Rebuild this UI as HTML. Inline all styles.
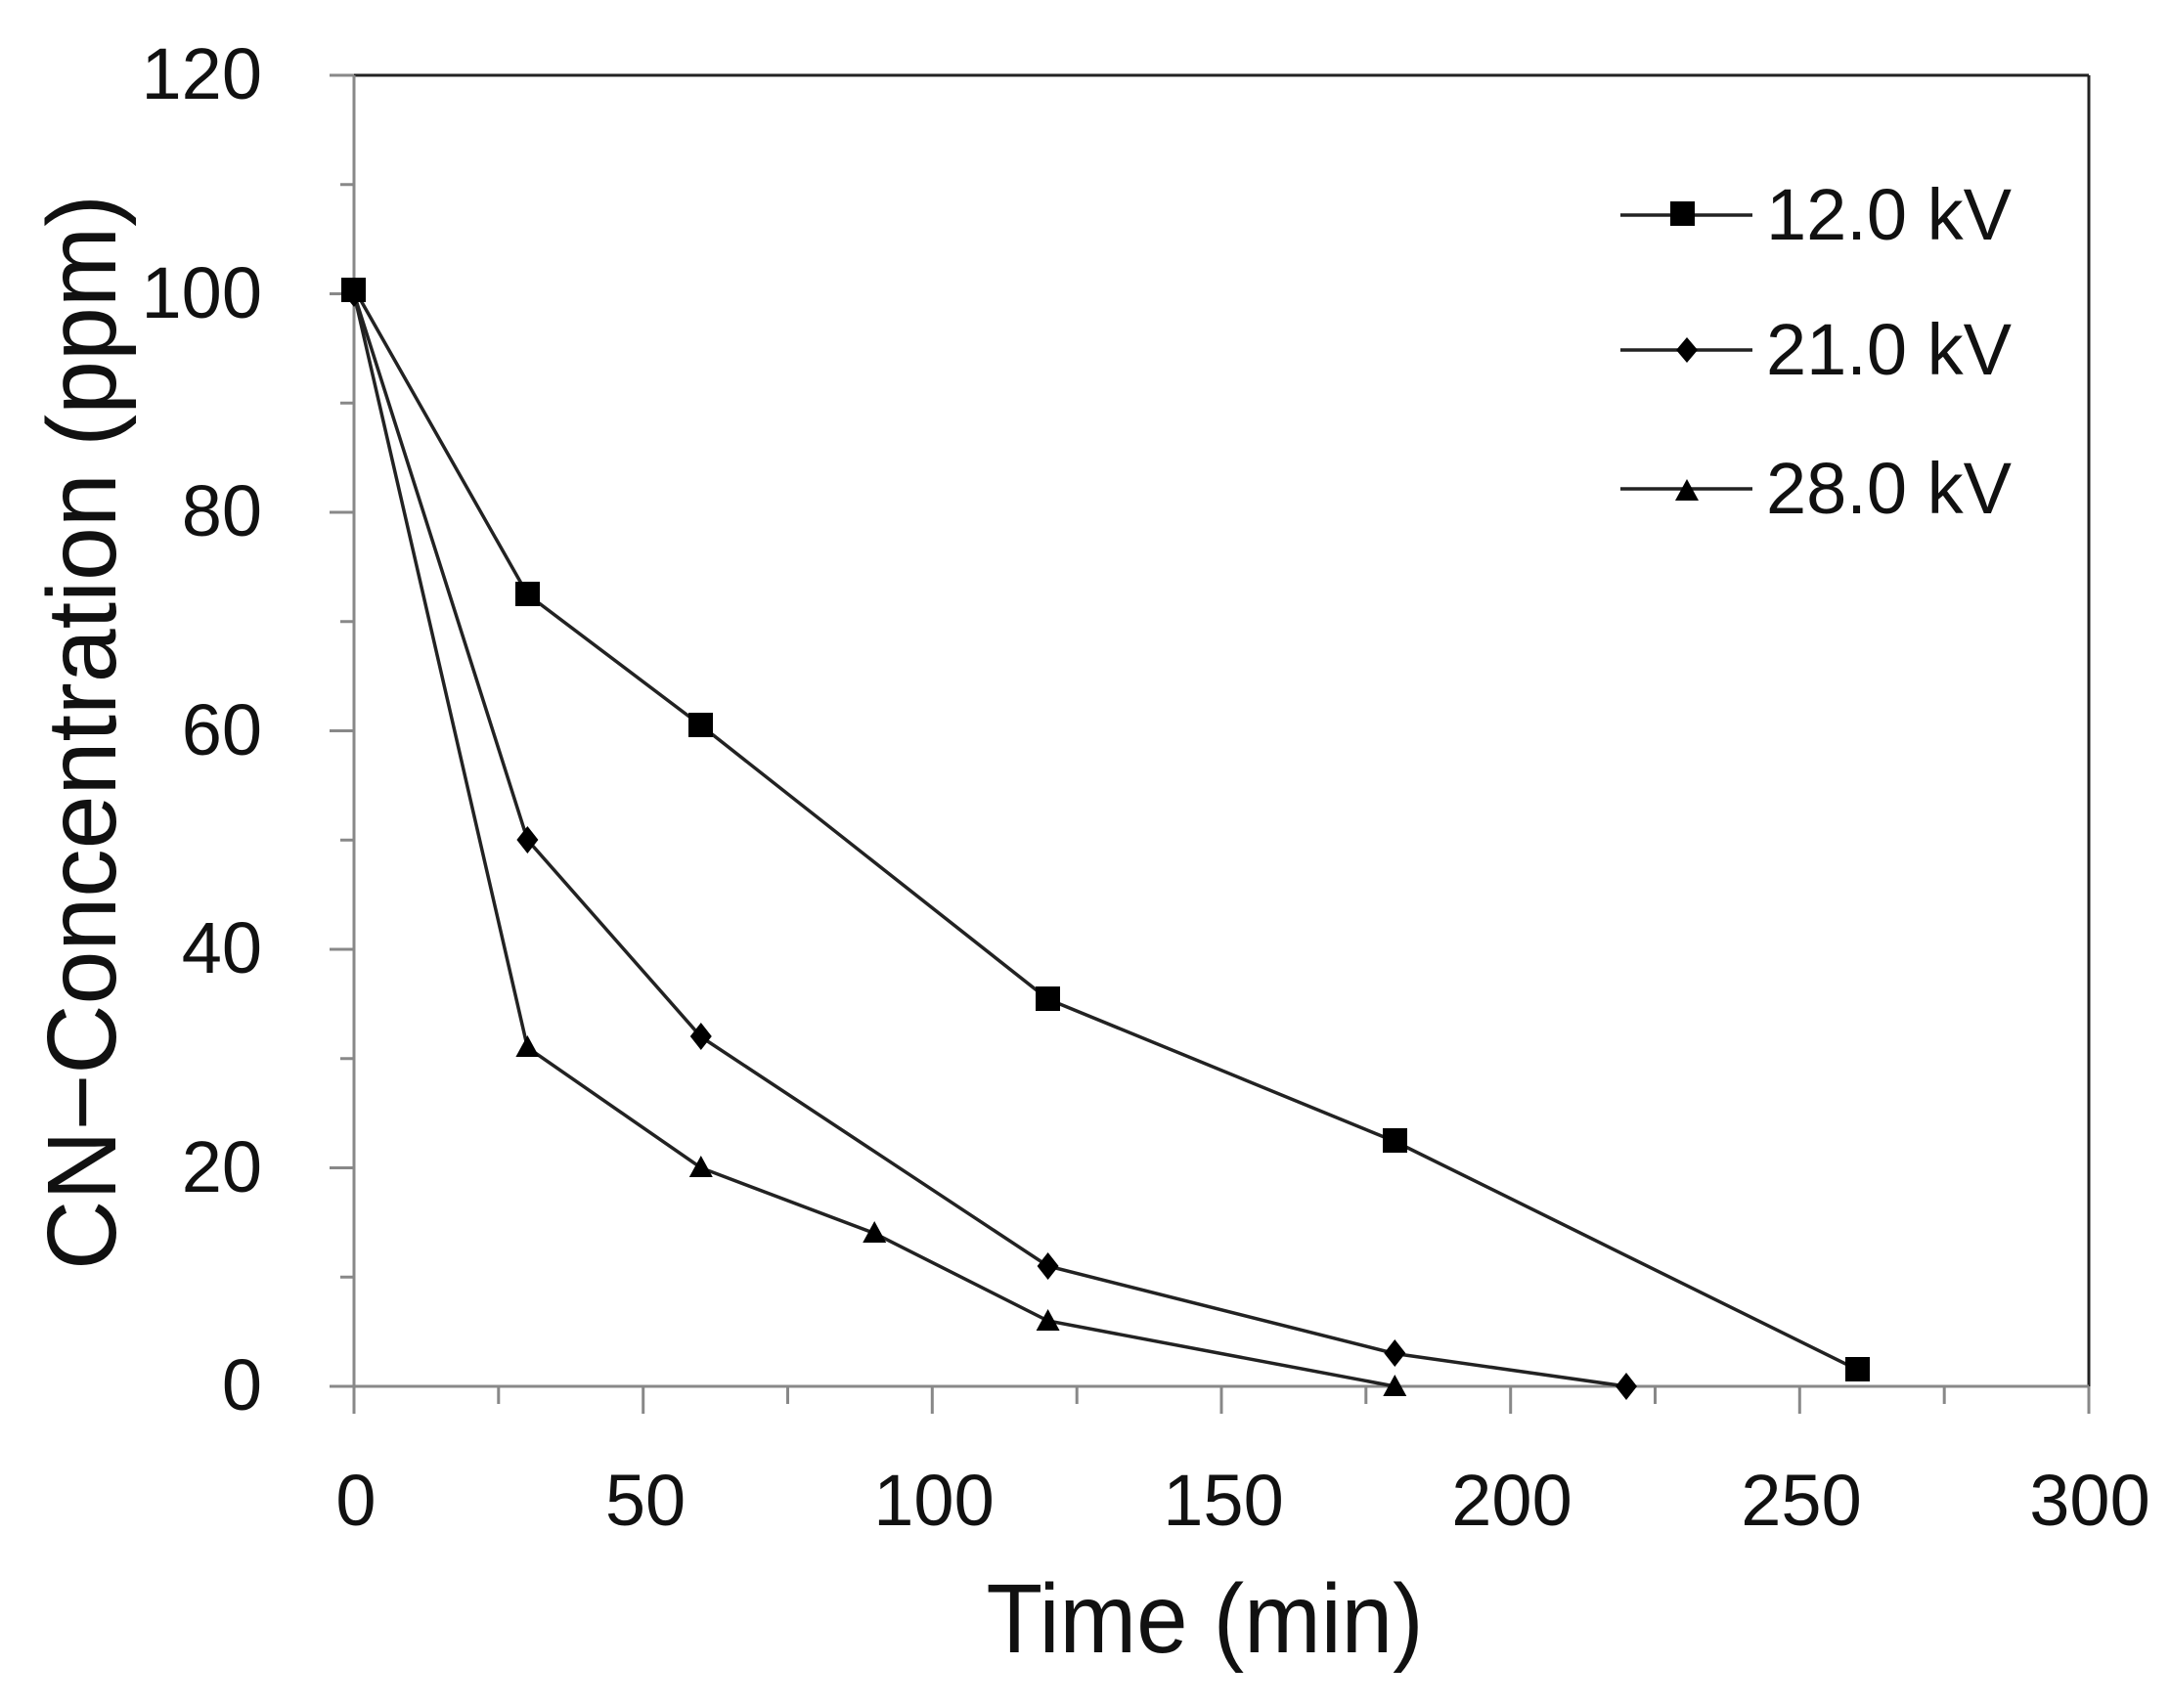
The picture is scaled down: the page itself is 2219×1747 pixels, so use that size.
<!DOCTYPE html>
<html><head><meta charset="utf-8"><style>
html,body{margin:0;padding:0;background:#fff;}
svg{display:block;}
text{font-family:"Liberation Sans",sans-serif;fill:#111;}
</style></head><body>
<svg width="2219" height="1747" viewBox="0 0 2219 1747" xmlns="http://www.w3.org/2000/svg">
<rect width="2219" height="1747" fill="#fff"/>
<g stroke="#222" stroke-width="3" fill="none">
<line x1="362" y1="77" x2="2136" y2="77"/>
<line x1="2136" y1="77" x2="2136" y2="1418"/>
</g>
<g stroke="#888" stroke-width="3" fill="none">
<line x1="362" y1="77" x2="362" y2="1418"/>
<line x1="362" y1="1418" x2="2136" y2="1418"/>
<path d="M337 77H362M337 300.5H362M337 524H362M337 747.5H362M337 971H362M337 1194.5H362M337 1418H362"/>
<path d="M348 188.75H362M348 412.25H362M348 635.75H362M348 859.25H362M348 1082.75H362M348 1306.25H362"/>
<path d="M362 1418V1446M657.7 1418V1446M953.3 1418V1446M1249 1418V1446M1544.7 1418V1446M1840.3 1418V1446M2136 1418V1446"/>
<path d="M509.8 1418V1436M805.5 1418V1436M1101.2 1418V1436M1396.8 1418V1436M1692.5 1418V1436M1988.2 1418V1436"/>
</g>
<g font-size="74" text-anchor="end">
<text x="268" y="101">120</text>
<text x="268" y="325">100</text>
<text x="268" y="548">80</text>
<text x="268" y="772">60</text>
<text x="268" y="995">40</text>
<text x="268" y="1219">20</text>
<text x="268" y="1442">0</text>
</g>
<g font-size="74" text-anchor="middle">
<text x="364" y="1560">0</text>
<text x="660" y="1560">50</text>
<text x="955" y="1560">100</text>
<text x="1251" y="1560">150</text>
<text x="1546" y="1560">200</text>
<text x="1842" y="1560">250</text>
<text x="2137" y="1560">300</text>
</g>
<text x="1232" y="1690" font-size="100" text-anchor="middle" textLength="447" lengthAdjust="spacingAndGlyphs">Time (min)</text>
<text transform="translate(118,749) rotate(-90)" font-size="100" text-anchor="middle" textLength="1100" lengthAdjust="spacingAndGlyphs">CN−Concentration (ppm)</text>

<g stroke="#222" stroke-width="3.5" fill="none">
<polyline points="362,295 539.4,608 716.8,742 1071.6,1022 1426.3,1167.5 1899.4,1401"/>
<polyline points="362,300.5 539.4,859 716.8,1060.5 1071.6,1295 1426.3,1384.5 1663,1418"/>
<polyline points="362,300.5 539.4,1071.5 716.8,1194.5 894.2,1261.5 1071.6,1351 1426.3,1418"/>
</g>
<g fill="#000">
<rect x="349" y="284" width="25" height="25"/>
<rect x="527" y="595" width="25" height="25"/>
<rect x="704" y="729" width="25" height="25"/>
<rect x="1059" y="1009" width="25" height="25"/>
<rect x="1414" y="1154" width="25" height="25"/>
<rect x="1887" y="1388" width="25" height="25"/>
</g>
<g fill="#000">
<path d="M362,287l11,13.5l-11,13.5l-11,-13.5z"/>
<path d="M539.4,845l11,14l-11,14l-11,-14z"/>
<path d="M716.8,1046l11,14l-11,14l-11,-14z"/>
<path d="M1071.6,1281l11,14l-11,14l-11,-14z"/>
<path d="M1426.3,1370l11,14l-11,14l-11,-14z"/>
<path d="M1663,1404l11,14l-11,14l-11,-14z"/>
</g>
<g fill="#000">
<path d="M539.4,1059l12,22h-24z"/>
<path d="M716.8,1182l12,22h-24z"/>
<path d="M894.2,1249l12,22h-24z"/>
<path d="M1071.6,1339l12,22h-24z"/>
<path d="M1426.3,1406l12,22h-24z"/>
</g>
<g stroke="#222" stroke-width="3.5">
<line x1="1657" y1="220" x2="1792" y2="220"/>
<line x1="1657" y1="358" x2="1792" y2="358"/>
<line x1="1657" y1="500" x2="1792" y2="500"/>
</g>
<rect x="1708" y="206" width="25" height="25" fill="#000"/>
<path d="M1725,345l11,13l-11,13l-11,-13z" fill="#000"/>
<path d="M1725,490l12,22h-24z" fill="#000"/>
<g font-size="74">
<text x="1806" y="245">12.0 kV</text>
<text x="1806" y="383">21.0 kV</text>
<text x="1806" y="525">28.0 kV</text>
</g>
</svg>
</body></html>
